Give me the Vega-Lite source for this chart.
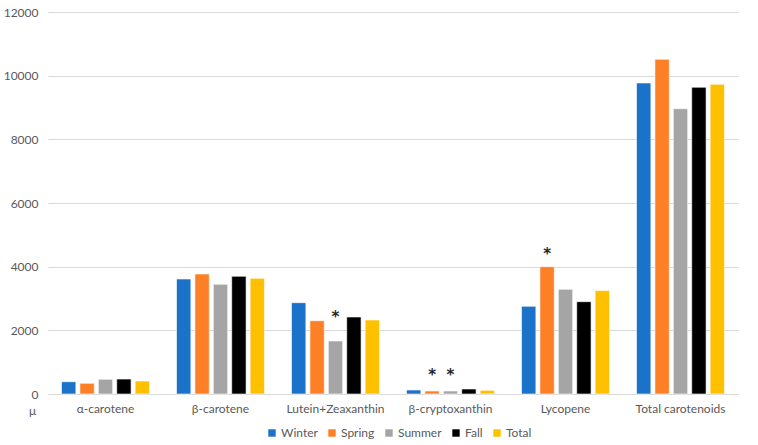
{
  "$schema": "https://vega.github.io/schema/vega-lite/v6.json",
  "width": 690,
  "height": 382,
  "autosize": {"type": "none"},
  "padding": {"left": 48, "top": 12, "right": 20, "bottom": 51},
  "config": {
    "font": "Lato",
    "view": {"stroke": null},
    "axis": {"labelFont": "Lato", "titleFont": "Lato", "labelColor": "#595959", "labelFontSize": 12}
  },
  "datasets": {
    "bars": [
      {"compound": "α-carotene", "season": "Winter", "value": 386},
      {"compound": "α-carotene", "season": "Spring", "value": 336},
      {"compound": "α-carotene", "season": "Summer", "value": 462},
      {"compound": "α-carotene", "season": "Fall", "value": 470},
      {"compound": "α-carotene", "season": "Total", "value": 408},
      {"compound": "β-carotene", "season": "Winter", "value": 3613},
      {"compound": "β-carotene", "season": "Spring", "value": 3770},
      {"compound": "β-carotene", "season": "Summer", "value": 3446},
      {"compound": "β-carotene", "season": "Fall", "value": 3697},
      {"compound": "β-carotene", "season": "Total", "value": 3634},
      {"compound": "Lutein+Zeaxanthin", "season": "Winter", "value": 2869},
      {"compound": "Lutein+Zeaxanthin", "season": "Spring", "value": 2303},
      {"compound": "Lutein+Zeaxanthin", "season": "Summer", "value": 1665},
      {"compound": "Lutein+Zeaxanthin", "season": "Fall", "value": 2419},
      {"compound": "Lutein+Zeaxanthin", "season": "Total", "value": 2325},
      {"compound": "β-cryptoxanthin", "season": "Winter", "value": 126},
      {"compound": "β-cryptoxanthin", "season": "Spring", "value": 94},
      {"compound": "β-cryptoxanthin", "season": "Summer", "value": 94},
      {"compound": "β-cryptoxanthin", "season": "Fall", "value": 157},
      {"compound": "β-cryptoxanthin", "season": "Total", "value": 116},
      {"compound": "Lycopene", "season": "Winter", "value": 2755},
      {"compound": "Lycopene", "season": "Spring", "value": 4000},
      {"compound": "Lycopene", "season": "Summer", "value": 3289},
      {"compound": "Lycopene", "season": "Fall", "value": 2900},
      {"compound": "Lycopene", "season": "Total", "value": 3250},
      {"compound": "Total carotenoids", "season": "Winter", "value": 9770},
      {"compound": "Total carotenoids", "season": "Spring", "value": 10515},
      {"compound": "Total carotenoids", "season": "Summer", "value": 8963},
      {"compound": "Total carotenoids", "season": "Fall", "value": 9636},
      {"compound": "Total carotenoids", "season": "Total", "value": 9730}
    ],
    "stars": [
      {"compound": "Lutein+Zeaxanthin", "season": "Summer", "pos": 2554, "label": "*"},
      {"compound": "β-cryptoxanthin", "season": "Spring", "pos": 732, "label": "*"},
      {"compound": "β-cryptoxanthin", "season": "Summer", "pos": 732, "label": "*"},
      {"compound": "Lycopene", "season": "Spring", "pos": 4524, "label": "*"}
    ]
  },
  "encoding": {
    "x": {
      "field": "compound", "type": "nominal",
      "sort": ["α-carotene", "β-carotene", "Lutein+Zeaxanthin", "β-cryptoxanthin", "Lycopene", "Total carotenoids"],
      "scale": {"paddingInner": 0.235, "paddingOuter": 0.1175},
      "axis": {"title": null, "labelAngle": 0, "ticks": false, "domainColor": "#d9d9d9", "labelPadding": 9, "grid": false}
    },
    "xOffset": {
      "field": "season", "type": "nominal",
      "sort": ["Winter", "Spring", "Summer", "Fall", "Total"],
      "scale": {"paddingInner": 0.22, "paddingOuter": 0}
    }
  },
  "layer": [
    {
      "data": {"name": "bars"},
      "mark": {"type": "bar", "stroke": "#ffffff", "strokeWidth": 0.6},
      "encoding": {
        "y": {
          "field": "value", "type": "quantitative",
          "scale": {"domain": [0, 12000], "nice": false},
          "axis": {
            "values": [0, 2000, 4000, 6000, 8000, 10000, 12000],
            "format": "d", "domain": false, "ticks": false, "labelPadding": 10,
            "gridColor": "#d9d9d9", "gridWidth": 1,
            "title": "μ", "titleAngle": 0, "titleX": -16, "titleY": 398, "titleBaseline": "middle",
            "titleFontWeight": "normal", "titleFontSize": 12, "titleColor": "#595959"
          }
        },
        "color": {
          "field": "season", "type": "nominal",
          "sort": ["Winter", "Spring", "Summer", "Fall", "Total"],
          "scale": {"domain": ["Winter", "Spring", "Summer", "Fall", "Total"], "range": ["#1a73c9", "#fd7f26", "#a5a5a5", "#000000", "#ffc000"]},
          "legend": {
            "title": null, "orient": "none", "direction": "horizontal",
            "legendX": 218, "legendY": 415,
            "symbolType": "square", "symbolSize": 55, "symbolStrokeWidth": 0,
            "labelFontSize": 12, "labelColor": "#595959", "labelFont": "Lato",
            "columnPadding": 8, "labelOffset": 3
          }
        }
      }
    },
    {
      "data": {"name": "stars"},
      "mark": {"type": "text", "font": "DejaVu Sans", "fontSize": 15, "fontWeight": "bold", "fill": "#262626", "baseline": "middle", "dy": 4},
      "encoding": {
        "y": {"field": "pos", "type": "quantitative"},
        "text": {"field": "label"}
      }
    }
  ]
}
